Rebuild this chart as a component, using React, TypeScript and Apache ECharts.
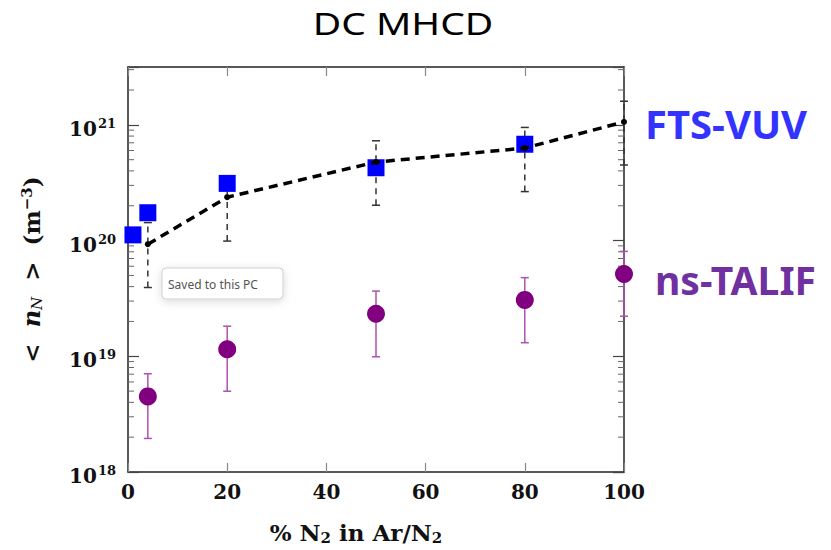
import React, { useEffect, useRef } from "react";
import * as echarts from "echarts";

// FTS-VUV (blue squares)
const ftsX = [1, 4, 20, 50, 80];
const ftsY = [1.12e20, 1.74e20, 3.12e20, 4.26e20, 6.8e20];

// Dashed black model line with error bars
const lineX = [4, 20, 50, 80, 100];
const lineY = [9.3e19, 2.37e20, 4.77e20, 6.3e20, 1.06e21];
const lineLow = [3.93e19, 9.9e19, 2.02e20, 2.65e20, 4.5e20];
const lineHigh = [1.43e20, 3.1e20, 7.28e20, 9.5e20, 1.6e21];

// ns-TALIF (purple circles)
const talifX = [4, 20, 50, 80, 100];
const talifY = [4.5e18, 1.15e19, 2.33e19, 3.07e19, 5.14e19];
const talifLow = [1.95e18, 4.99e18, 9.9e18, 1.31e19, 2.22e19];
const talifHigh = [7.06e18, 1.82e19, 3.66e19, 4.78e19, 8.06e19];

const yDecades = [18, 19, 20, 21];

const serif = "DejaVu Serif";

export default function App() {
  const ref = useRef<HTMLDivElement>(null);
  useEffect(() => {
    if (!ref.current) return;
    const chart = echarts.init(ref.current, null, { renderer: "svg" });

    const minor: number[][] = [];
    for (let d = 18; d <= 21; d++) {
      for (let m = 2; m <= 9; m++) {
        const v = m * Math.pow(10, d);
        if (v < 3.16e21) minor.push([0, v]);
      }
    }

    const errBar = (color: string, dashed: boolean, capW: number) => (params: any, api: any) => {
      const x = api.value(0);
      const lo = api.coord([x, api.value(1)]);
      const hi = api.coord([x, api.value(2)]);
      const style = { stroke: color, lineWidth: 1.5, lineDash: dashed ? [6, 5] : undefined };
      return {
        type: "group",
        children: [
          { type: "line", shape: { x1: lo[0], y1: lo[1], x2: hi[0], y2: hi[1] }, style },
          { type: "line", shape: { x1: lo[0] - capW, y1: lo[1], x2: lo[0] + capW, y2: lo[1] }, style: { stroke: color, lineWidth: 1.5 } },
          { type: "line", shape: { x1: hi[0] - capW, y1: hi[1], x2: hi[0] + capW, y2: hi[1] }, style: { stroke: color, lineWidth: 1.5 } },
        ],
      };
    };

    const yLabelFmt = (v: number) => {
      const e = Math.round(Math.log10(v));
      if (Math.abs(Math.log10(v) - e) > 1e-6 || !yDecades.includes(e)) return "";
      return `{b|10}{s|${e}}`;
    };

    const axisLine = { show: true, onZero: false, lineStyle: { color: "#222", width: 1.5 } };

    const yAxisCommon = {
      type: "log" as const,
      logBase: 10,
      min: 1e18,
      max: Math.pow(10, 21.5),
      axisLine,
      axisTick: { show: true, inside: true, length: 11, lineStyle: { color: "#444", width: 1.2 } },
      splitLine: { show: false },
      minorTick: { show: false },
    };

    chart.setOption({
      animation: false,
      backgroundColor: "#ffffff",
      grid: { left: 128, right: 207, top: 67, bottom: 71 },
      xAxis: [
        {
          type: "value",
          min: 0,
          max: 100,
          interval: 20,
          name: "{t|% N}{sub|2}{t| in Ar/N}{sub|2}",
          nameLocation: "middle",
          nameGap: 48,
          nameTextStyle: {
            padding: [0, 40, 0, 0],
            rich: {
              t: { fontFamily: serif, fontWeight: "bold", fontSize: 23, color: "#111" },
              sub: { fontFamily: serif, fontWeight: "bold", fontSize: 15, color: "#111", verticalAlign: "bottom", padding: [10, 0, 0, 0] },
            },
          },
          axisLine,
          axisTick: { show: true, inside: true, length: 9, lineStyle: { color: "#888", width: 1.2 } },
          axisLabel: { fontFamily: serif, fontWeight: "bold", fontSize: 20, color: "#111", margin: 10 },
          splitLine: { show: false },
        },
        {
          type: "value",
          position: "top",
          min: 0,
          max: 100,
          interval: 20,
          axisLine,
          axisTick: { show: true, inside: true, length: 9, lineStyle: { color: "#888", width: 1.2 } },
          axisLabel: { show: false },
          splitLine: { show: false },
        },
      ],
      yAxis: [
        {
          ...yAxisCommon,
          position: "left",
          name: "{t|<  }{i|n}{sub|N}{t|  >  (m}{sup|−3}{t|)}",
          nameLocation: "middle",
          nameRotate: 90,
          nameGap: 84,
          nameTextStyle: {
            rich: {
              t: { fontFamily: serif, fontWeight: "bold", fontSize: 23, color: "#111" },
              i: { fontFamily: serif, fontStyle: "italic", fontWeight: "bold", fontSize: 24, color: "#111" },
              sub: { fontFamily: serif, fontStyle: "italic", fontSize: 15, color: "#111", verticalAlign: "bottom", padding: [10, 0, 0, 0] },
              sup: { fontFamily: serif, fontWeight: "bold", fontSize: 15, color: "#111", verticalAlign: "top", padding: [0, 0, 10, 0] },
            },
          },
          axisLabel: {
            formatter: yLabelFmt,
            margin: 12,
            rich: {
              b: { fontFamily: serif, fontWeight: "bold", fontSize: 20, color: "#111", verticalAlign: "bottom", padding: [8, 0, 0, 0] },
              s: { fontFamily: serif, fontWeight: "bold", fontSize: 13, color: "#111", verticalAlign: "top", padding: [6, 0, 0, 1] },
            },
          },
        },
        {
          ...yAxisCommon,
          position: "right",
          axisLabel: { show: false },
        },
      ],
      graphic: [
        {
          type: "text",
          x: 403,
          y: 23,
          scaleX: 1.3,
          style: { text: "DC MHCD", fontFamily: "Noto Sans", fontSize: 30, fill: "#000", align: "center", verticalAlign: "middle" },
        },
        {
          type: "text",
          x: 645,
          y: 123,
          style: { text: "FTS-VUV", fontFamily: "Noto Sans", fontWeight: "bold", fontSize: 40, fill: "#3333ff", verticalAlign: "middle" },
        },
        {
          type: "text",
          x: 655,
          y: 279,
          style: { text: "ns-TALIF", fontFamily: "Noto Sans", fontWeight: "bold", fontSize: 39, fill: "#7030a0", verticalAlign: "middle" },
        },
        {
          type: "rect",
          shape: { x: 162, y: 268, width: 121, height: 31, r: 4 },
          style: { fill: "#ffffff", stroke: "#d0d0d0", lineWidth: 1, shadowBlur: 8, shadowColor: "rgba(0,0,0,0.15)", shadowOffsetY: 2 },
          z: 100,
        },
        {
          type: "text",
          x: 168,
          y: 284,
          style: { text: "Saved to this PC", fontFamily: "Noto Sans", fontSize: 12, fill: "#555", verticalAlign: "middle" },
          z: 101,
        },
      ],
      series: [
        {
          type: "custom",
          name: "minorTicks",
          xAxisIndex: 0,
          yAxisIndex: 0,
          silent: true,
          data: minor,
          encode: { x: 0, y: 1 },
          clip: false,
          renderItem: (params: any, api: any) => {
            const v = api.value(1);
            const l = api.coord([0, v]);
            const r = api.coord([100, v]);
            const st = { stroke: "#666", lineWidth: 1 };
            return {
              type: "group",
              children: [
                { type: "line", shape: { x1: l[0], y1: l[1], x2: l[0] + 6, y2: l[1] }, style: st },
                { type: "line", shape: { x1: r[0] - 6, y1: r[1], x2: r[0], y2: r[1] }, style: st },
              ],
            };
          },
          z: 1,
        },
        {
          type: "custom",
          name: "lineErr",
          silent: true,
          data: lineX.map((x, i) => [x, lineLow[i], lineHigh[i]]),
          encode: { x: 0, y: [1, 2] },
          clip: false,
          renderItem: errBar("#333", true, 4),
          z: 2,
        },
        {
          type: "custom",
          name: "talifErr",
          silent: true,
          data: talifX.map((x, i) => [x, talifLow[i], talifHigh[i]]),
          encode: { x: 0, y: [1, 2] },
          clip: false,
          renderItem: errBar("#b050b0", false, 4),
          z: 2,
        },
        {
          type: "scatter",
          name: "FTS-VUV",
          data: ftsX.map((x, i) => [x, ftsY[i]]),
          symbol: "rect",
          symbolSize: 17,
          itemStyle: { color: "#0000ff", opacity: 1 },
          z: 3,
        },
        {
          type: "line",
          name: "model",
          data: lineX.map((x, i) => [x, lineY[i]]),
          symbol: "circle",
          symbolSize: 6,
          itemStyle: { color: "#000" },
          lineStyle: { color: "#000", width: 3.5, type: [9, 6] },
          z: 4,
        },
        {
          type: "scatter",
          name: "ns-TALIF",
          data: talifX.map((x, i) => [x, talifY[i]]),
          symbol: "circle",
          symbolSize: 18,
          itemStyle: { color: "#800080", opacity: 1 },
          z: 5,
        },
      ],
    });

    return () => chart.dispose();
  }, []);

  return <div ref={ref} style={{ width: 831, height: 550, position: "absolute", left: 0, top: 0 }} />;
}
